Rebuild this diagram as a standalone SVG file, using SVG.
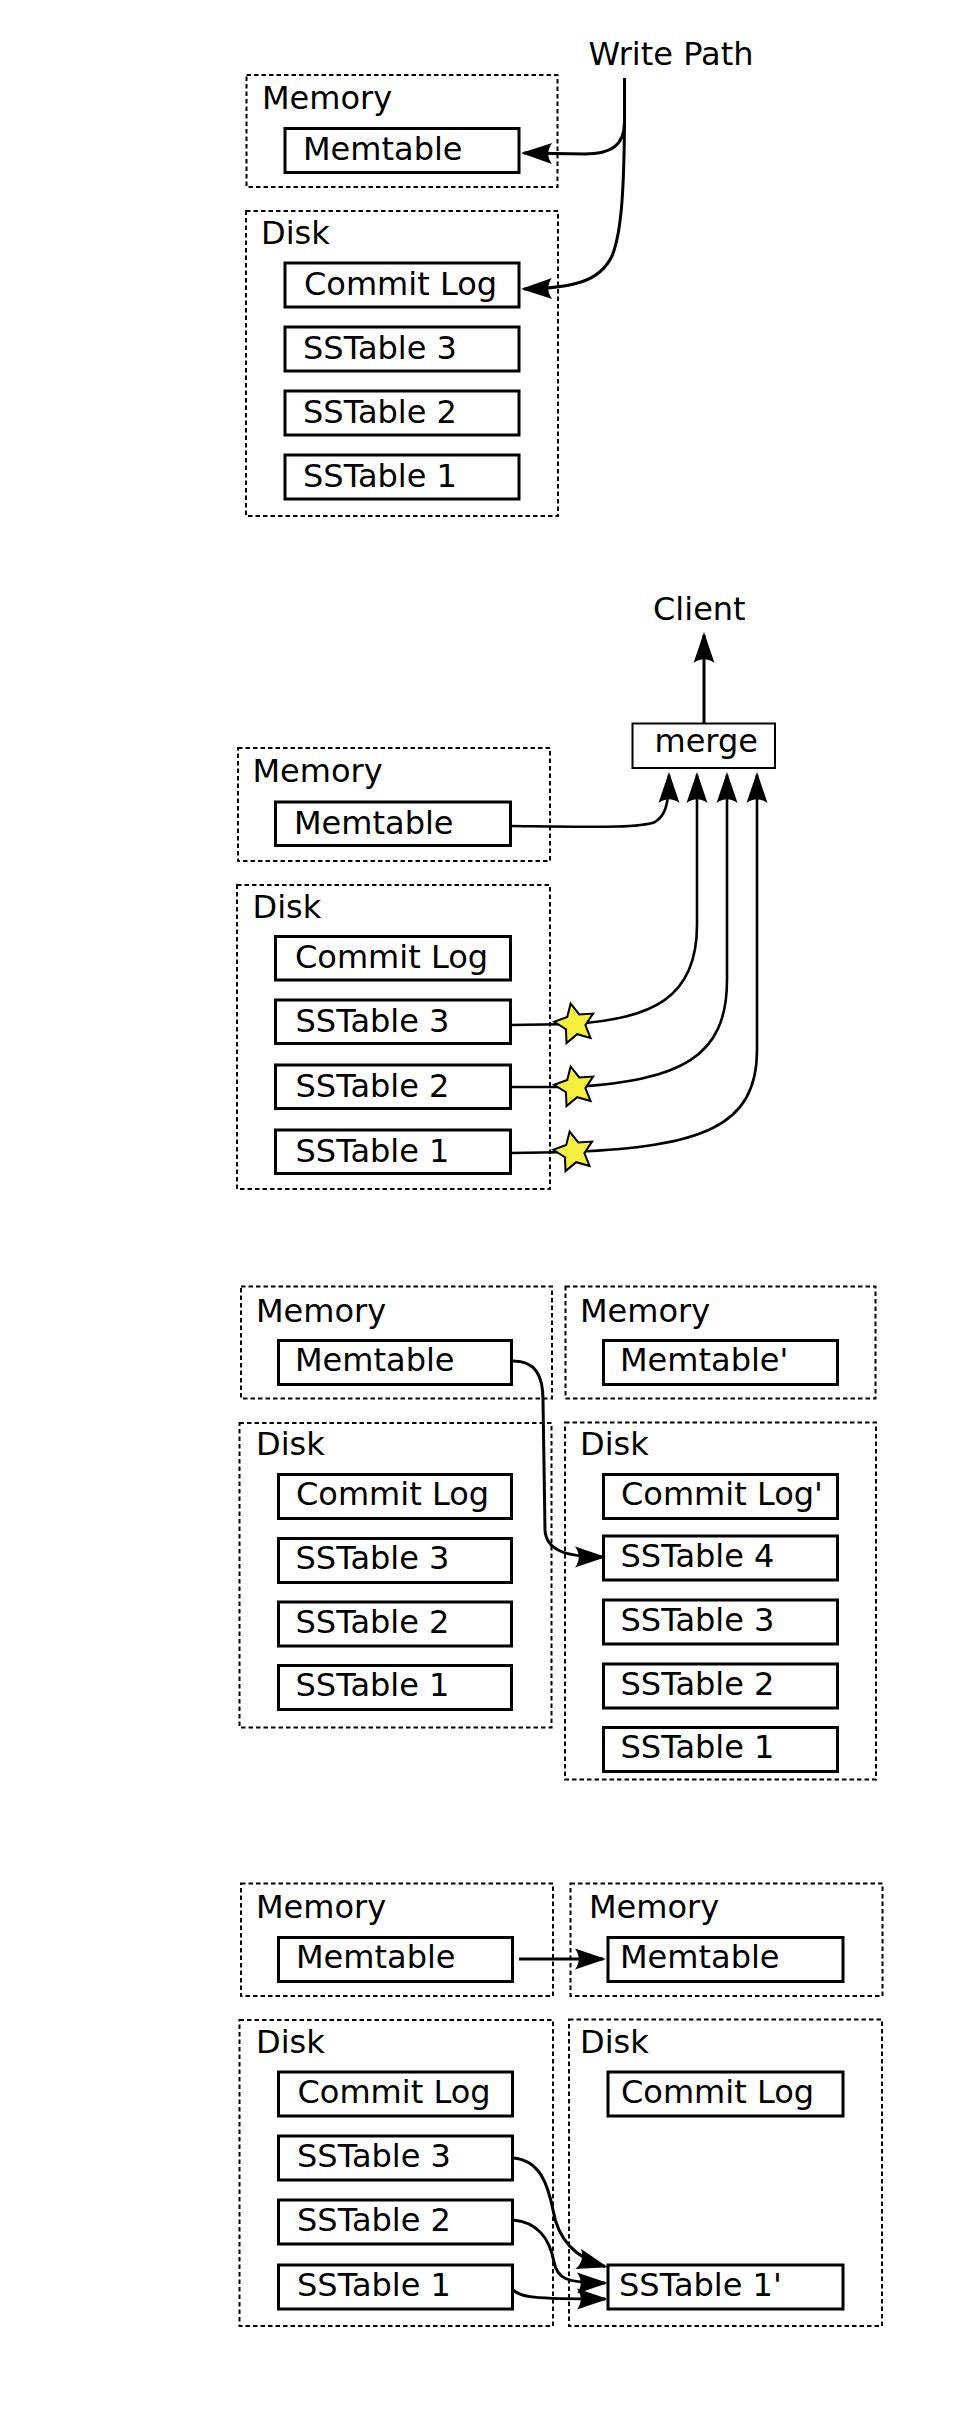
<svg xmlns="http://www.w3.org/2000/svg" width="954" height="2409" viewBox="0 0 954 2409">
<style>
.t{font-family:"DejaVu Sans","Liberation Sans",sans-serif;font-size:32px;fill:#000}
.grp{fill:none;stroke:#000;stroke-width:2;stroke-dasharray:4.5,3}
.box{fill:#fff;stroke:#000;stroke-width:3}
.mbox{fill:#fff;stroke:#000;stroke-width:2}
.c{fill:none;stroke:#000;stroke-width:3}
.c2{fill:none;stroke:#000;stroke-width:2.6}
.star{fill:#f3ef3c;stroke:#000;stroke-width:2;stroke-linejoin:miter}
</style>
<defs>
<marker id="ah" markerUnits="userSpaceOnUse" viewBox="-32 -13 38 26" refX="0" refY="0" markerWidth="38" markerHeight="26" orient="auto">
<path d="M 3 0 L -28 -10.5 C -23 -3.5 -23 3.5 -28 10.5 Z" fill="#000"/>
</marker>
<path id="starshape" d="M -4.35,-20.44 L 4.25,-9.55 L 18.1,-10.45 L 10.4,1.09 L 15.53,13.98 L 2.18,10.22 L -8.5,19.1 L -9.05,5.23 L -20.79,-2.19 L -7.77,-7 Z"/>
</defs>
<rect x="0" y="0" width="954" height="2409" fill="#fff"/>

<!-- Panel 1: write path -->
<g id="p1-writepath"><text class="t" x="588.5" y="65">Write Path</text></g>
<g id="p1-memory"><rect class="grp" x="246.5" y="75" width="311" height="112"/><text class="t" x="262" y="108.5">Memory</text></g>
<g id="p1-memtable"><rect class="box" x="285" y="128.5" width="234" height="44"/><text class="t" x="303" y="159.5">Memtable</text></g>
<g id="p1-disk"><rect class="grp" x="246" y="211" width="312" height="305"/><text class="t" x="261" y="243.5">Disk</text></g>
<g id="p1-commitlog"><rect class="box" x="285" y="263" width="234" height="44"/><text class="t" x="304" y="294.5">Commit Log</text></g>
<g id="p1-sstable3"><rect class="box" x="285" y="327" width="234" height="44"/><text class="t" x="303" y="358.5">SSTable 3</text></g>
<g id="p1-sstable2"><rect class="box" x="285" y="391" width="234" height="44"/><text class="t" x="303" y="422.5">SSTable 2</text></g>
<g id="p1-sstable1"><rect class="box" x="285" y="455" width="234" height="44"/><text class="t" x="303" y="486.5">SSTable 1</text></g>

<!-- Panel 2: read path -->
<g id="p2-client"><text class="t" x="653" y="619.5">Client</text></g>
<g id="p2-merge"><rect class="mbox" x="632.5" y="723.5" width="142.5" height="44.5"/><text class="t" x="654.5" y="752">merge</text></g>
<g id="p2-memory"><rect class="grp" x="238" y="748" width="312" height="113"/><text class="t" x="252.5" y="781.5">Memory</text></g>
<g id="p2-memtable"><rect class="box" x="275.5" y="802" width="235" height="43.5"/><text class="t" x="294" y="833.5">Memtable</text></g>
<g id="p2-disk"><rect class="grp" x="237" y="885" width="313" height="304"/><text class="t" x="252.5" y="918">Disk</text></g>
<g id="p2-commitlog"><rect class="box" x="275.5" y="936.5" width="235" height="43.5"/><text class="t" x="295" y="968">Commit Log</text></g>
<g id="p2-sstable3"><rect class="box" x="275.5" y="1000" width="235" height="43.5"/><text class="t" x="295.5" y="1031.5">SSTable 3</text></g>
<g id="p2-sstable2"><rect class="box" x="275.5" y="1065" width="235" height="43.5"/><text class="t" x="295.5" y="1096.5">SSTable 2</text></g>
<g id="p2-sstable1"><rect class="box" x="275.5" y="1130" width="235" height="43.5"/><text class="t" x="295.5" y="1161.5">SSTable 1</text></g>

<!-- Panel 3: flush -->
<g id="p3-memory-old"><rect class="grp" x="241" y="1286.5" width="311" height="112"/><text class="t" x="256" y="1321.5">Memory</text></g>
<g id="p3-memtable-old"><rect class="box" x="278.5" y="1340.5" width="233" height="44"/><text class="t" x="295" y="1370.5">Memtable</text></g>
<g id="p3-memory-new"><rect class="grp" x="565.5" y="1286.5" width="310" height="112"/><text class="t" x="580" y="1321.5">Memory</text></g>
<g id="p3-memtable-new"><rect class="box" x="603.5" y="1340.5" width="234" height="44"/><text class="t" x="620" y="1370.5">Memtable'</text></g>
<g id="p3-disk-old"><rect class="grp" x="239.5" y="1423" width="312" height="304.5"/><text class="t" x="256" y="1454.5">Disk</text></g>
<g id="p3-commitlog-old"><rect class="box" x="278.5" y="1474.5" width="233" height="44"/><text class="t" x="296" y="1505">Commit Log</text></g>
<g id="p3-sstable3-old"><rect class="box" x="278.5" y="1538.5" width="233" height="44"/><text class="t" x="295.5" y="1569">SSTable 3</text></g>
<g id="p3-sstable2-old"><rect class="box" x="278.5" y="1602" width="233" height="44"/><text class="t" x="295.5" y="1632.5">SSTable 2</text></g>
<g id="p3-sstable1-old"><rect class="box" x="278.5" y="1665.5" width="233" height="44"/><text class="t" x="295.5" y="1696">SSTable 1</text></g>
<g id="p3-disk-new"><rect class="grp" x="565" y="1422.5" width="311" height="357"/><text class="t" x="580" y="1454.5">Disk</text></g>
<g id="p3-commitlog-new"><rect class="box" x="603.5" y="1474.5" width="234" height="44"/><text class="t" x="621" y="1505">Commit Log'</text></g>
<g id="p3-sstable4-new"><rect class="box" x="603.5" y="1536" width="234" height="44"/><text class="t" x="620.5" y="1566.5">SSTable 4</text></g>
<g id="p3-sstable3-new"><rect class="box" x="603.5" y="1600" width="234" height="44"/><text class="t" x="620.5" y="1630.5">SSTable 3</text></g>
<g id="p3-sstable2-new"><rect class="box" x="603.5" y="1664" width="234" height="44"/><text class="t" x="620.5" y="1694.5">SSTable 2</text></g>
<g id="p3-sstable1-new"><rect class="box" x="603.5" y="1727.5" width="234" height="44"/><text class="t" x="620.5" y="1758">SSTable 1</text></g>

<!-- Panel 4: compaction -->
<g id="p4-memory-old"><rect class="grp" x="241" y="1883.5" width="312" height="112.5"/><text class="t" x="256" y="1918">Memory</text></g>
<g id="p4-memtable-old"><rect class="box" x="278.5" y="1937.5" width="234" height="44"/><text class="t" x="296" y="1968">Memtable</text></g>
<g id="p4-memory-new"><rect class="grp" x="570.5" y="1883.5" width="312" height="112.5"/><text class="t" x="589" y="1918">Memory</text></g>
<g id="p4-memtable-new"><rect class="box" x="608" y="1937.5" width="235" height="44"/><text class="t" x="620" y="1968">Memtable</text></g>
<g id="p4-disk-old"><rect class="grp" x="239.5" y="2020" width="313.5" height="306"/><text class="t" x="256" y="2052.5">Disk</text></g>
<g id="p4-commitlog-old"><rect class="box" x="278.5" y="2072" width="234" height="44"/><text class="t" x="297.5" y="2103">Commit Log</text></g>
<g id="p4-sstable3-old"><rect class="box" x="278.5" y="2136" width="234" height="44"/><text class="t" x="297" y="2167">SSTable 3</text></g>
<g id="p4-sstable2-old"><rect class="box" x="278.5" y="2200" width="234" height="44"/><text class="t" x="297" y="2231">SSTable 2</text></g>
<g id="p4-sstable1-old"><rect class="box" x="278.5" y="2265" width="234" height="44"/><text class="t" x="297" y="2296">SSTable 1</text></g>
<g id="p4-disk-new"><rect class="grp" x="569" y="2019.5" width="313" height="306.5"/><text class="t" x="580" y="2052.5">Disk</text></g>
<g id="p4-commitlog-new"><rect class="box" x="608" y="2072" width="235" height="44"/><text class="t" x="621" y="2103">Commit Log</text></g>
<g id="p4-sstable1-new"><rect class="box" x="608" y="2265" width="235" height="44"/><text class="t" x="619" y="2296">SSTable 1'</text></g>

<!-- Connectors -->
<g id="connectors">
<path class="c" d="M 624.5 78 L 624.5 122 C 624.5 146 610 154 585 154 L 524 153" marker-end="url(#ah)"/>
<path class="c" d="M 624.5 122 C 624 185 622 232 612 256 C 600 281 575 288 524 289" marker-end="url(#ah)"/>

<path class="c" d="M 704 723 L 704 635" marker-end="url(#ah)"/>
<path class="c2" d="M 511 826 C 600 827 640 828 655 822 C 665 816 669 805 669 775" marker-end="url(#ah)"/>
<path class="c2" d="M 511 1025 L 575 1024 C 650 1018 697 1000 697 925 L 697 775" marker-end="url(#ah)"/>
<path class="c2" d="M 511 1087 L 575 1087 C 680 1080 727 1058 727 980 L 727 775" marker-end="url(#ah)"/>
<path class="c2" d="M 511 1153 L 574 1152 C 700 1146 757 1128 757 1050 L 757 775" marker-end="url(#ah)"/>

<path class="c" d="M 513 1361 C 535 1361 543 1375 543 1400 L 545 1530 C 546 1550 565 1557 603 1557" marker-end="url(#ah)"/>

<path class="c" d="M 519 1959 L 603 1959" marker-end="url(#ah)"/>
<path class="c" d="M 513 2158 C 540 2160 548 2185 553 2210 C 558 2240 575 2258 605 2266.5" marker-end="url(#ah)"/>
<path class="c" d="M 513 2220 C 538 2222 550 2240 554 2262 C 557 2278 565 2283 605 2283" marker-end="url(#ah)"/>
<path class="c" d="M 513 2290 C 522 2297 530 2299 605 2299" marker-end="url(#ah)"/>
</g>

<g id="stars">
<use href="#starshape" class="star" x="575" y="1024"/>
<use href="#starshape" class="star" x="575" y="1087"/>
<use href="#starshape" class="star" x="574" y="1152"/>
</g>
</svg>
